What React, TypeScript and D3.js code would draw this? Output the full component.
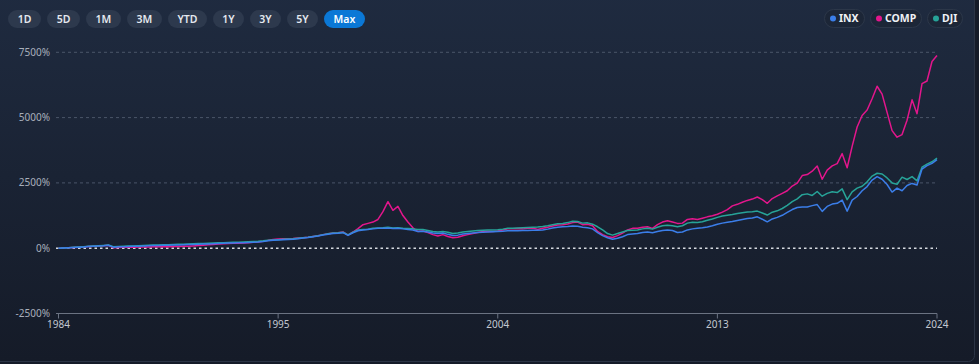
import React, { useEffect, useRef } from "react";
import * as d3 from "d3";

// % change since start, one value per sample (equal index spacing)
const inxValues = [
  0, 8, 18, 28, 40, 50, 62, 72, 85, 95,
  112, 40, 55, 60, 65, 70, 75, 82, 90, 100,
  105, 110, 115, 120, 125, 130, 138, 145, 150, 158,
  165, 175, 182, 190, 195, 200, 205, 210, 218, 228,
  240, 260, 285, 300, 312, 322, 332, 345, 365,
  390, 410, 440, 470, 505, 535, 565, 575, 595, 490,
  590, 670, 700, 720, 740, 760, 760, 770, 750, 760,
  740, 720, 700, 640, 650, 620, 580, 560, 580, 530,
  490, 500, 540, 560, 580, 600, 610, 620, 630, 640,
  650, 670,
  670, 670, 680, 680, 690, 690, 700, 730, 770, 800,
  820, 830, 850, 840, 800, 780, 740, 600, 480, 400,
  340, 380, 440, 520, 540, 560, 600, 620, 590, 640,
  680, 700, 680, 600, 620, 700,
  740, 760, 780, 810, 860, 920, 960, 990, 1020, 1060,
  1100, 1140, 1160, 1200, 1110, 1010, 1120, 1180, 1260, 1370,
  1480, 1560, 1580, 1580, 1630, 1670, 1410, 1600, 1690, 1720,
  1840, 1420, 1840, 1980, 2200, 2360, 2610, 2740, 2640, 2440,
  2150, 2300, 2200, 2400, 2480, 2420, 3030, 3160, 3250, 3390,
];

const compValues = [
  0, 8, 18, 28, 40, 50, 62, 72, 85, 95,
  110, 15, 30, 35, 38, 40, 42, 45, 50, 55,
  55, 58, 60, 62, 65, 70, 78, 88, 100, 115,
  130, 145, 160, 170, 178, 186, 194, 202, 212, 225,
  240, 265, 300, 330, 350, 360, 365, 370, 390,
  400, 420, 450, 480, 520, 550, 580, 590, 620, 500,
  620, 750, 900, 950, 1000, 1100, 1400, 1780, 1450, 1600,
  1250, 1000, 780, 640, 660, 600, 520, 470, 520, 450,
  400, 420, 480, 520, 560, 600, 640, 650, 640, 660,
  700, 740,
  740, 750, 740, 760, 770, 720, 760, 800, 850, 890,
  900, 930, 980, 1000, 900, 920, 860, 640, 520, 440,
  410, 480, 580, 700, 760, 760, 800, 820, 760, 900,
  1000, 1050, 1000, 950, 960, 1100,
  1130, 1100, 1150, 1200, 1240, 1300, 1380, 1480, 1620, 1680,
  1760, 1830, 1880, 1960, 1860, 1720, 1900, 2000, 2100, 2200,
  2380, 2490, 2780, 2820, 2950, 3150, 2640, 2990, 3150, 3240,
  3620, 3080, 3900, 4640, 5080, 5290, 5720, 6200, 5900, 5200,
  4500, 4250, 4350, 4900, 5680, 5150, 6300, 6400, 7150, 7380,
];

const djiValues = [
  0, 10, 20, 32, 45, 56, 70, 82, 95, 108,
  125, 55, 68, 75, 80, 85, 92, 100, 110, 120,
  125, 130, 136, 142, 148, 155, 162, 170, 176, 183,
  190, 198, 205, 212, 218, 224, 230, 236, 244, 254,
  265, 282, 305, 318, 328, 338, 348, 360, 380,
  400, 420, 450, 480, 520, 550, 580, 590, 610, 510,
  610, 700, 720, 730, 760, 770, 780, 800, 770, 780,
  760, 750, 740, 720, 720, 680, 640, 620, 640, 610,
  560, 580, 620, 640, 660, 680, 690, 700, 700, 710,
  730, 760,
  760, 770, 780, 790, 800, 810, 830, 860, 900, 940,
  950, 980, 1030, 1020, 960, 970, 920, 820, 700, 560,
  500, 560, 620, 680, 690, 700, 740, 760, 730, 800,
  860, 880, 860, 820, 860, 960,
  990, 980, 1010, 1070, 1120, 1180, 1230, 1260, 1290, 1330,
  1360, 1390, 1400, 1420, 1350, 1270, 1380, 1430, 1520, 1640,
  1780, 1890, 2050, 2080, 2020, 2170, 1990, 2100, 2160, 2130,
  2270, 1860, 2160, 2300, 2370, 2540, 2760, 2870, 2840, 2690,
  2500, 2450, 2720, 2630, 2740, 2580, 3100, 3220, 3310, 3450,
];

const xTickLabels = ["1984", "1995", "2004", "2013", "2024"];
const yTickValues = [-2500, 0, 2500, 5000, 7500];
const rangeButtons = ["1D", "5D", "1M", "3M", "YTD", "1Y", "3Y", "5Y", "Max"];
const activeRange = "Max";

const seriesNames = ["INX", "COMP", "DJI"];
const seriesColors = ["#3b7ee9", "#e3168c", "#27a398"];
const seriesValues = [inxValues, compValues, djiValues];

const W = 979;
const H = 364;
const FONT = "'Noto Sans', 'Open Sans', sans-serif";

const App = () => {
  const svgRef = useRef<SVGSVGElement>(null);

  useEffect(() => {
    document.body.style.margin = "0";
    const svg = d3.select(svgRef.current);
    svg.selectAll("*").remove();

    const defs = svg.append("defs");
    const grad = defs
      .append("linearGradient")
      .attr("id", "bg")
      .attr("x1", 0)
      .attr("y1", 0)
      .attr("x2", 0)
      .attr("y2", 1);
    grad.append("stop").attr("offset", "0%").attr("stop-color", "#1f2b40");
    grad.append("stop").attr("offset", "100%").attr("stop-color", "#151b28");

    svg.append("rect").attr("width", W).attr("height", H).attr("fill", "#151b28");
    svg
      .append("rect")
      .attr("x", -10)
      .attr("y", -10)
      .attr("width", 984.5)
      .attr("height", 371.5)
      .attr("rx", 6)
      .attr("fill", "url(#bg)")
      .attr("stroke", "#2b3445")
      .attr("stroke-width", 1);

    const left = 58.5;
    const right = 937;
    const n = inxValues.length;
    const x = d3.scaleLinear().domain([0, n - 1]).range([left, right]);
    const y = d3.scaleLinear().domain([-2500, 7500]).range([313.5, 52.3]);

    // gridlines
    yTickValues.forEach((v) => {
      if (v === -2500) return;
      svg
        .append("line")
        .attr("x1", 56)
        .attr("x2", right)
        .attr("y1", y(v))
        .attr("y2", y(v))
        .attr("stroke", v === 0 ? "#d5d9e0" : "#4a5568")
        .attr("stroke-width", v === 0 ? 1.6 : 1)
        .attr("stroke-dasharray", v === 0 ? "2.5,3" : "3,3");
    });

    // y labels
    svg
      .append("g")
      .selectAll("text")
      .data(yTickValues)
      .enter()
      .append("text")
      .attr("x", 50)
      .attr("y", (d) => y(d))
      .attr("dy", "0.35em")
      .attr("text-anchor", "end")
      .attr("font-family", FONT)
      .attr("font-size", 10)
      .attr("fill", "#a8afbb")
      .text((d) => `${d}%`);

    // x axis
    const xTicks = xTickLabels.map((lab, i) => ({
      lab,
      idx: ((n - 1) * i) / (xTickLabels.length - 1),
    }));
    const xAxis = svg.append("g");
    xAxis
      .append("line")
      .attr("x1", 56)
      .attr("x2", right)
      .attr("y1", y(-2500))
      .attr("y2", y(-2500))
      .attr("stroke", "#6b7382")
      .attr("stroke-width", 1.2);
    xTicks.forEach((t) => {
      xAxis
        .append("line")
        .attr("x1", x(t.idx))
        .attr("x2", x(t.idx))
        .attr("y1", y(-2500))
        .attr("y2", y(-2500) + 5)
        .attr("stroke", "#6b7382")
        .attr("stroke-width", 1);
      xAxis
        .append("text")
        .attr("x", x(t.idx))
        .attr("y", 328)
        .attr("text-anchor", "middle")
        .attr("font-family", FONT)
        .attr("font-size", 10)
        .attr("fill", "#c3c8d1")
        .text(t.lab);
    });

    // lines
    const line = d3
      .line<number>()
      .x((_, i) => x(i))
      .y((d) => y(d))
      .curve(d3.curveLinear);
    [1, 2, 0].forEach((k) => {
      svg
        .append("path")
        .datum(seriesValues[k])
        .attr("d", line)
        .attr("fill", "none")
        .attr("stroke", seriesColors[k])
        .attr("stroke-width", 1.5)
        .attr("stroke-linejoin", "round");
    });

    // range buttons
    const ctx = document.createElement("canvas").getContext("2d")!;
    ctx.font = `600 10.5px ${FONT}`;
    let bx = 8;
    rangeButtons.forEach((lab) => {
      const w = Math.round(ctx.measureText(lab).width + 19);
      const active = lab === activeRange;
      svg
        .append("rect")
        .attr("x", bx)
        .attr("y", 10)
        .attr("width", w)
        .attr("height", 18)
        .attr("rx", 9)
        .attr("fill", active ? "#0b78d6" : "#2d394d");
      svg
        .append("text")
        .attr("x", bx + w / 2)
        .attr("y", 19)
        .attr("dy", "0.35em")
        .attr("text-anchor", "middle")
        .attr("font-family", FONT)
        .attr("font-size", 10.5)
        .attr("font-weight", 600)
        .attr("fill", active ? "#ffffff" : "#e4e8ee")
        .text(lab);
      bx += w + 6;
    });

    // legend pills, right aligned
    ctx.font = `700 10.5px ${FONT}`;
    const widths = seriesNames.map((s) => Math.round(ctx.measureText(s).width + 20));
    let lx = 962 - d3.sum(widths) - 6 * (seriesNames.length - 1);
    seriesNames.forEach((s, i) => {
      const w = widths[i];
      svg
        .append("rect")
        .attr("x", lx + 0.5)
        .attr("y", 9.5)
        .attr("width", w)
        .attr("height", 18)
        .attr("rx", 9)
        .attr("fill", "#1c2637")
        .attr("stroke", "#2c3749");
      svg
        .append("circle")
        .attr("cx", lx + 9)
        .attr("cy", 18.5)
        .attr("r", 3)
        .attr("fill", seriesColors[i]);
      svg
        .append("text")
        .attr("x", lx + 15)
        .attr("y", 18.5)
        .attr("dy", "0.35em")
        .attr("font-family", FONT)
        .attr("font-size", 10.5)
        .attr("font-weight", 700)
        .attr("fill", "#eef1f5")
        .text(s);
      lx += w + 6;
    });
  }, []);

  return (
    <div style={{ position: "absolute", left: 0, top: 0, width: W, height: H }}>
      <svg ref={svgRef} width={W} height={H} style={{ display: "block" }} />
    </div>
  );
};

export default App;
